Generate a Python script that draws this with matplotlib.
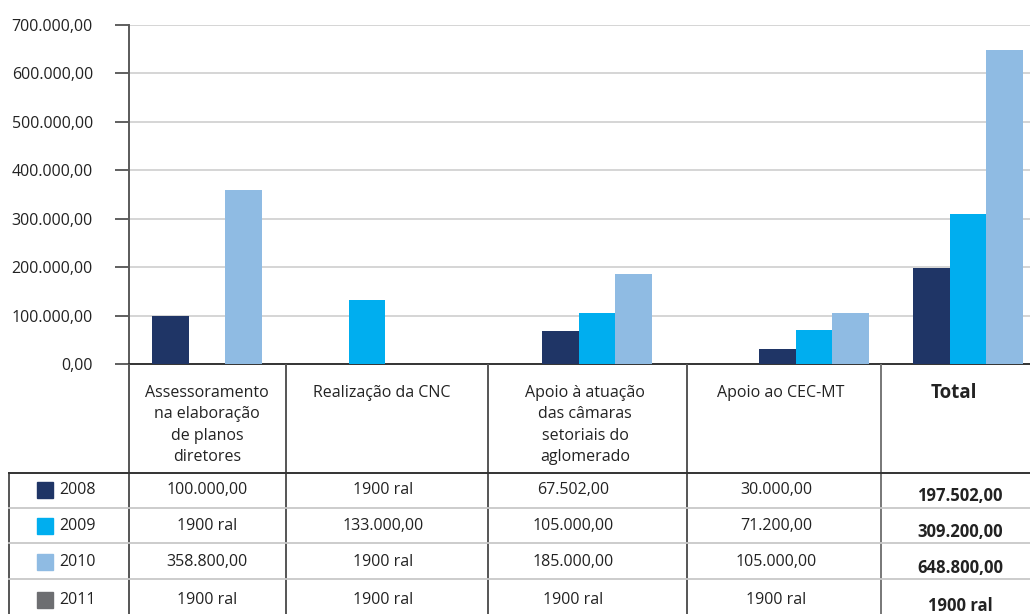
import matplotlib.pyplot as plt
from matplotlib.ticker import FuncFormatter
import numpy as np

plt.rcParams['font.family'] = ['Open Sans', 'DejaVu Sans']

# ---- data ----
categories = [
    "Assessoramento\nna elaboração\nde planos\ndiretores",
    "Realização da CNC",
    "Apoio à atuação\ndas câmaras\nsetoriais do\naglomerado",
    "Apoio ao CEC-MT",
    "Total",
]
years = ["2008", "2009", "2010", "2011"]
# None = "1900 ral" (no value)
v2008 = [100000.00, None, 67502.00, 30000.00, 197502.00]
v2009 = [None, 133000.00, 105000.00, 71200.00, 309200.00]
v2010 = [358800.00, None, 185000.00, 105000.00, 648800.00]
v2011 = [None, None, None, None, None]
series = [v2008, v2009, v2010, v2011]
colors = ["#1f3566", "#00aeef", "#8fbbe3", "#6d6e71"]
yticks = [0, 100000, 200000, 300000, 400000, 500000, 600000, 700000]

W, H = 1030, 614
FS = 11.5


def br(v, decimals=2):
    s = f"{v:,.{decimals}f}"
    return s.replace(",", "X").replace(".", ",").replace("X", ".")


# layout in pixels
ax_left, ax_right, ax_top, ax_bottom = 129, 1030, 25, 364
group_x = [207, 367, 597, 814, 968]
bar_w = 36.5
col_lines = [129, 286, 488, 687, 881]
text_x = [207, 383, 573, 776, 960]
header_x = [207, 382, 585, 781, 954]
row_lines = [473, 508, 543, 579]
row_y = [490, 526, 562, 600]

fig = plt.figure(figsize=(W / 100, H / 100), dpi=100)
ax = fig.add_axes([ax_left / W, 1 - ax_bottom / H,
                   (ax_right - ax_left) / W, (ax_bottom - ax_top) / H])

for k, (vals, c) in enumerate(zip(series[:3], colors[:3])):
    xs = [g + (k - 1) * bar_w for g in group_x]
    hs = [np.nan if v is None else v for v in vals]
    ax.bar(xs, hs, width=bar_w, color=c, zorder=3)

ax.set_xlim(ax_left, ax_right)
ax.set_ylim(0, 700000)
ax.set_yticks(yticks)
ax.yaxis.set_major_formatter(FuncFormatter(lambda v, p: br(v)))
ax.grid(axis='y', color='#d2d2d2', linewidth=1.3, zorder=0)
ax.set_xticks([])
for s in ['top', 'right']:
    ax.spines[s].set_visible(False)
ax.spines['left'].set_color('#5a5a5a')
ax.spines['left'].set_linewidth(1.4)
ax.spines['bottom'].set_color('#333333')
ax.spines['bottom'].set_linewidth(1.4)
ax.tick_params(axis='y', length=10, width=1.2, color='#444444', pad=16,
               labelsize=FS, labelcolor='#222222')

# ---- table below the chart ----
tab = fig.add_axes([0, 0, 1, 1], facecolor='none')
tab.set_xlim(0, W)
tab.set_ylim(H, 0)
tab.axis('off')

for i, x in enumerate(col_lines):
    tab.plot([x, x], [ax_bottom, H], color='#555555' if i < 4 else '#777777',
             lw=1.4, solid_capstyle='butt')
tab.plot([9, 9], [row_lines[0], H], color='#555555', lw=1.4)
tab.plot([9, W], [row_lines[0], row_lines[0]], color='#333333', lw=1.4)
for y in row_lines[1:]:
    tab.plot([9, W], [y, y], color='#c8c8c8', lw=1.3)

for j, (lab, x) in enumerate(zip(categories, header_x)):
    if lab == "Total":
        tab.text(x, 383, lab, ha='center', va='top', fontsize=13.5,
                 fontweight='bold', color='#222222')
    else:
        tab.text(x, 385, lab, ha='center', va='top', fontsize=FS,
                 color='#222222', linespacing=1.45)

for r, (yr, vals, c) in enumerate(zip(years, series, colors)):
    y = row_y[r]
    tab.add_patch(plt.Rectangle((37, y - 8), 16, 16, color=c))
    tab.text(59, y, yr, ha='left', va='center', fontsize=FS, color='#222222')
    for j, v in enumerate(vals):
        txt = "1900 ral" if v is None else br(v)
        if j == 4:
            tab.text(text_x[j], y + 6, txt, ha='center', va='center',
                     fontsize=12, fontweight='bold', color='#222222')
        else:
            tab.text(text_x[j], y, txt, ha='center', va='center',
                     fontsize=FS, color='#222222')

fig.savefig("out.png", dpi=100)
